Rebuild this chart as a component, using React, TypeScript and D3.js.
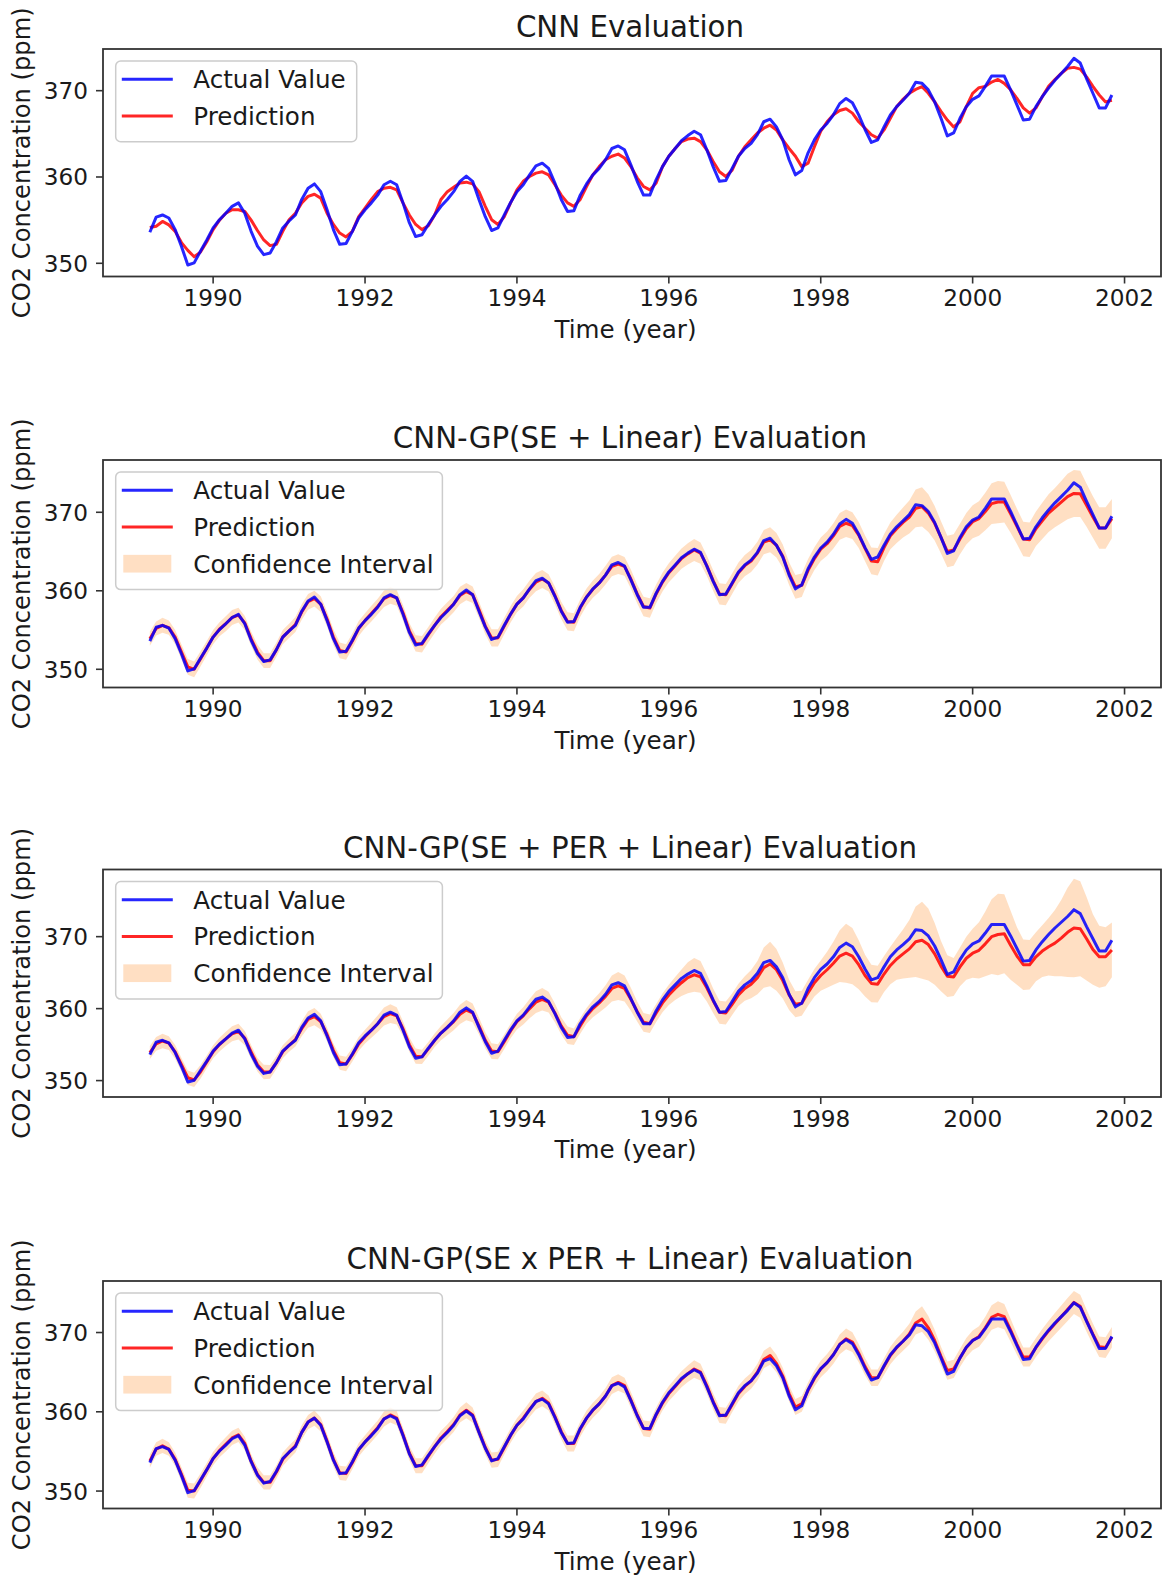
import React from 'react';
import * as d3 from 'd3';

// Monthly series, March 1989 – November 2001 (153 months), CO2 in ppm.
const START_YEAR = 1989;
const START_MONTH = 3;

const actual = [
  353.6, 355.35, 355.6, 355.25, 353.9, 351.95, 349.8, 350.05, 351.4, 352.7,
  354.1, 355.05, 355.8, 356.6, 357.0, 355.8, 353.7, 352.0, 351.0, 351.2, 352.5, 354.1,
  354.9, 355.6, 357.4, 358.7, 359.2, 358.3, 356.2, 353.9, 352.2, 352.3, 353.7, 355.25,
  356.2, 357.0, 357.9, 359.1, 359.5, 359.1, 357.0, 354.7, 353.1, 353.3, 354.5, 355.6,
  356.6, 357.4, 358.3, 359.5, 360.1, 359.5, 357.4, 355.4, 353.8, 354.1, 355.6, 357.05,
  358.3, 359.1, 360.25, 361.3, 361.6, 361.0, 359.3, 357.4, 356.0, 356.1, 357.9, 359.2,
  360.25, 361.0, 362.0, 363.3, 363.6, 363.15, 361.4, 359.5, 357.9, 357.9, 359.7, 361.2,
  362.4, 363.3, 364.2, 364.8, 365.3, 364.9, 363.15, 361.2, 359.5, 359.6, 361.0, 362.4,
  363.3, 363.9, 364.9, 366.4, 366.7, 365.8, 364.3, 362.0, 360.25, 360.75, 362.8, 364.3,
  365.45, 366.2, 367.2, 368.5, 369.1, 368.6, 367.2, 365.5, 364.0, 364.3, 365.8, 367.2,
  368.15, 368.9, 369.7, 370.97, 370.85, 370.1, 368.7, 366.8, 364.76, 365.1, 366.8, 368.15,
  369.0, 369.4, 370.5, 371.7, 371.7, 371.7, 370.1, 368.35, 366.6, 366.7, 368.15, 369.3,
  370.3, 371.2, 372.0, 372.8, 373.75, 373.2, 371.4, 369.7, 368.0, 368.0, 369.5,
];

// CNN
const predCNN = [
  354.15, 354.3, 354.85, 354.45, 353.7, 352.4, 351.5, 350.75, 351.3, 352.5,
  353.9, 355.0, 355.8, 356.2, 356.2, 356.0, 355.0, 353.8, 352.7, 352.05, 352.2, 353.7,
  355.05, 355.8, 357.0, 357.75, 358.0, 357.55, 355.8, 354.5, 353.5, 353.05, 353.7, 355.4,
  356.4, 357.4, 358.3, 358.7, 358.8, 358.5, 357.0, 355.6, 354.5, 353.9, 354.35, 355.6,
  357.4, 358.3, 358.8, 359.3, 359.4, 359.2, 358.3, 356.6, 355.05, 354.5, 355.4, 357.0,
  358.5, 359.5, 360.06, 360.45, 360.6, 360.25, 359.1, 357.9, 357.0, 356.6, 357.4, 358.9,
  360.25, 361.2, 362.0, 362.4, 362.65, 362.2, 361.2, 359.9, 358.9, 358.5, 359.3, 361.2,
  362.4, 363.3, 364.1, 364.4, 364.5, 364.1, 363.15, 361.8, 360.6, 360.06, 360.8, 362.4,
  363.5, 364.3, 365.1, 365.65, 366.0, 365.45, 364.3, 363.3, 362.4, 361.2, 361.6, 363.5,
  365.3, 366.4, 367.2, 367.7, 367.9, 367.4, 366.4, 365.65, 364.9, 364.5, 365.45, 366.8,
  368.15, 369.0, 369.7, 370.15, 370.46, 369.7, 368.7, 367.6, 366.6, 365.8, 366.4, 368.15,
  369.7, 370.35, 370.5, 371.0, 371.3, 370.85, 370.1, 369.1, 368.0, 367.4, 368.0, 369.3,
  370.5, 371.3, 372.0, 372.6, 372.7, 372.5, 371.6, 370.5, 369.5, 368.7, 368.9,
];

// CNN-GP(SE + Linear): mean and half-width of the interval
const predSELin = [
  353.9, 355.2, 355.6, 355.3, 354.1, 352.2, 350.3, 350.0, 351.3, 352.7,
  354.1, 355.1, 355.8, 356.6, 356.9, 355.9, 353.9, 352.2, 351.1, 351.1, 352.5, 354.1,
  354.9, 355.7, 357.3, 358.6, 359.0, 358.3, 356.4, 354.1, 352.4, 352.2, 353.6, 355.2,
  356.2, 357.1, 358.0, 359.0, 359.4, 359.1, 357.2, 354.9, 353.3, 353.2, 354.4, 355.6,
  356.7, 357.5, 358.3, 359.4, 359.9, 359.5, 357.6, 355.5, 354.0, 354.0, 355.5, 357.0,
  358.3, 359.1, 360.2, 361.1, 361.5, 361.0, 359.4, 357.5, 356.1, 356.0, 357.8, 359.2,
  360.2, 361.0, 362.0, 363.1, 363.4, 363.1, 361.5, 359.6, 358.0, 357.8, 359.6, 361.1,
  362.3, 363.2, 364.1, 364.7, 365.2, 364.8, 363.2, 361.3, 359.6, 359.5, 360.9, 362.3,
  363.2, 363.8, 364.8, 366.2, 366.5, 365.8, 364.4, 362.2, 360.5, 360.7, 362.6, 364.1,
  365.3, 366.0, 367.0, 368.2, 368.6, 368.3, 367.1, 365.4, 363.8, 363.7, 365.5, 367.0,
  367.9, 368.7, 369.4, 370.5, 370.7, 369.9, 368.6, 366.8, 365.0, 365.2, 366.6, 367.9,
  368.8, 369.2, 370.1, 371.1, 371.3, 371.3, 369.8, 368.2, 366.6, 366.5, 367.9, 368.9,
  369.9, 370.6, 371.3, 372.0, 372.4, 372.35, 370.9, 369.4, 368.0, 368.0, 369.2,
];
const ciSELin = [
  0.9, 0.9, 0.95, 0.9, 0.9, 0.95, 1.0, 1.0, 0.95, 0.9,
  0.9, 0.9, 0.95, 0.95, 0.95, 0.9, 0.9, 0.95, 0.95, 0.95, 0.9, 0.9,
  0.9, 0.95, 1.0, 1.0, 1.0, 1.0, 0.95, 1.0, 1.0, 1.0, 0.95, 0.95,
  0.95, 1.0, 1.0, 1.05, 1.05, 1.0, 1.0, 1.0, 1.05, 1.05, 1.0, 1.0,
  1.0, 1.05, 1.05, 1.1, 1.1, 1.05, 1.05, 1.05, 1.1, 1.1, 1.05, 1.05,
  1.05, 1.1, 1.1, 1.15, 1.15, 1.1, 1.1, 1.1, 1.15, 1.15, 1.1, 1.1,
  1.1, 1.15, 1.2, 1.25, 1.25, 1.2, 1.2, 1.2, 1.25, 1.25, 1.2, 1.2,
  1.2, 1.25, 1.3, 1.35, 1.4, 1.35, 1.3, 1.3, 1.35, 1.35, 1.3, 1.3,
  1.35, 1.4, 1.45, 1.55, 1.6, 1.55, 1.5, 1.45, 1.5, 1.5, 1.45, 1.45,
  1.5, 1.55, 1.6, 1.7, 1.75, 1.7, 1.65, 1.65, 1.7, 1.75, 1.7, 1.7,
  1.8, 1.9, 2.1, 2.4, 2.5, 2.4, 2.2, 2.05, 2.0, 2.0, 1.95, 2.0,
  2.1, 2.2, 2.4, 2.6, 2.7, 2.6, 2.4, 2.25, 2.2, 2.2, 2.2, 2.3,
  2.4, 2.5, 2.7, 2.9, 3.0, 2.95, 2.75, 2.65, 2.65, 2.65, 2.5,
];

// CNN-GP(SE + PER + Linear)
const predSEPerLin = [
  353.9, 355.1, 355.5, 355.2, 354.0, 352.2, 350.4, 350.1, 351.2, 352.6,
  354.0, 355.0, 355.8, 356.5, 356.8, 355.9, 354.0, 352.2, 351.2, 351.2, 352.5, 354.0,
  354.9, 355.7, 357.2, 358.5, 358.9, 358.2, 356.4, 354.2, 352.5, 352.3, 353.6, 355.1,
  356.1, 357.0, 357.9, 358.9, 359.3, 359.0, 357.2, 355.0, 353.4, 353.3, 354.4, 355.6,
  356.6, 357.4, 358.2, 359.2, 359.8, 359.4, 357.6, 355.6, 354.1, 354.0, 355.4, 356.9,
  358.2, 359.0, 360.0, 360.9, 361.3, 360.9, 359.4, 357.6, 356.3, 356.1, 357.6, 359.0,
  360.0, 360.8, 361.7, 362.8, 363.15, 362.8, 361.3, 359.6, 358.1, 357.9, 359.4, 360.8,
  361.9, 362.8, 363.6, 364.3, 364.7, 364.4, 362.9, 361.1, 359.5, 359.4, 360.6, 361.9,
  362.8, 363.4, 364.3, 365.7, 366.2, 365.4, 363.9, 361.9, 360.6, 360.75, 362.2, 363.6,
  364.6, 365.4, 366.3, 367.3, 367.7, 367.3, 366.1, 364.6, 363.5, 363.4, 364.8, 366.0,
  366.9, 367.6, 368.3, 369.3, 369.5, 368.9, 367.6, 365.9, 364.5, 364.4, 365.8, 367.0,
  367.7, 368.1, 369.0, 370.0, 370.3, 370.4, 368.8, 367.3, 366.1, 366.1, 367.2, 368.0,
  368.6, 369.1, 369.8, 370.6, 371.2, 371.1, 369.7, 368.2, 367.2, 367.2, 368.15,
];
const ciSEPerLin = [
  0.9, 0.95, 1.0, 0.95, 0.95, 0.95, 1.0, 1.0, 0.95, 0.9,
  0.9, 0.95, 1.0, 1.05, 1.1, 1.0, 0.95, 0.95, 1.0, 0.95, 0.9, 0.9,
  0.9, 0.95, 1.05, 1.15, 1.2, 1.1, 0.95, 0.95, 1.0, 1.0, 0.95, 0.95,
  0.95, 1.05, 1.15, 1.25, 1.3, 1.2, 1.05, 1.0, 1.05, 1.0, 0.95, 0.95,
  1.0, 1.1, 1.2, 1.35, 1.4, 1.3, 1.15, 1.1, 1.1, 1.05, 1.0, 1.0,
  1.1, 1.2, 1.35, 1.5, 1.55, 1.45, 1.3, 1.2, 1.2, 1.15, 1.1, 1.1,
  1.2, 1.35, 1.55, 1.8, 1.95, 1.8, 1.6, 1.4, 1.3, 1.3, 1.25, 1.3,
  1.4, 1.6, 1.85, 2.15, 2.35, 2.2, 1.9, 1.7, 1.6, 1.6, 1.5, 1.55,
  1.7, 1.95, 2.3, 2.8, 3.1, 2.9, 2.5, 2.1, 1.8, 1.75, 1.8, 1.9,
  2.1, 2.5, 3.0, 3.6, 4.1, 3.9, 3.4, 2.9, 2.6, 2.55, 2.5, 2.6,
  2.9, 3.4, 4.0, 4.9, 5.35, 5.0, 4.3, 3.5, 2.9, 2.65, 2.7, 3.0,
  3.4, 3.9, 4.5, 5.2, 5.65, 5.5, 4.8, 4.0, 3.5, 3.45, 3.4, 3.6,
  4.0, 4.6, 5.3, 6.2, 6.85, 6.6, 5.8, 4.9, 4.3, 4.1, 3.8,
];

// CNN-GP(SE x PER + Linear)
const predSEmulPerLin = [
  353.8, 355.3, 355.7, 355.3, 354.0, 352.1, 350.1, 350.0, 351.3, 352.7,
  354.1, 355.1, 355.9, 356.7, 357.1, 356.0, 353.8, 352.1, 351.1, 351.1, 352.4, 354.0,
  354.9, 355.7, 357.4, 358.7, 359.2, 358.4, 356.3, 354.0, 352.3, 352.2, 353.6, 355.2,
  356.2, 357.1, 358.0, 359.1, 359.6, 359.2, 357.1, 354.8, 353.2, 353.2, 354.4, 355.6,
  356.7, 357.5, 358.4, 359.6, 360.2, 359.6, 357.5, 355.5, 353.9, 354.0, 355.5, 357.0,
  358.3, 359.2, 360.3, 361.3, 361.7, 361.1, 359.4, 357.5, 356.0, 356.0, 357.8, 359.2,
  360.2, 361.0, 362.0, 363.3, 363.7, 363.3, 361.5, 359.6, 357.9, 357.8, 359.6, 361.1,
  362.3, 363.2, 364.1, 364.8, 365.4, 365.0, 363.3, 361.3, 359.6, 359.5, 360.9, 362.3,
  363.2, 363.9, 365.0, 366.6, 367.1, 366.1, 364.5, 362.3, 360.6, 361.0, 362.7, 364.2,
  365.4, 366.2, 367.2, 368.5, 369.2, 368.8, 367.4, 365.7, 364.3, 364.3, 365.7, 367.1,
  368.1, 368.9, 369.8, 371.2, 371.7, 370.6, 369.0, 367.0, 365.2, 365.4, 366.8, 368.1,
  369.0, 369.5, 370.6, 371.9, 372.3, 372.0, 370.3, 368.5, 366.9, 366.9, 368.1, 369.2,
  370.2, 371.1, 372.0, 372.9, 373.8, 373.3, 371.5, 369.8, 368.2, 368.1, 369.4,
];
const ciSEmulPerLin = [
  0.85, 0.85, 0.9, 0.85, 0.85, 0.9, 0.95, 0.95, 0.9, 0.85,
  0.85, 0.85, 0.9, 0.9, 0.9, 0.85, 0.85, 0.9, 0.9, 0.9, 0.85, 0.85,
  0.85, 0.85, 0.9, 0.9, 0.95, 0.9, 0.9, 0.9, 0.9, 0.9, 0.85, 0.85,
  0.85, 0.9, 0.9, 0.95, 0.95, 0.9, 0.9, 0.9, 0.95, 0.95, 0.9, 0.9,
  0.9, 0.9, 0.95, 0.95, 1.0, 0.95, 0.9, 0.9, 0.95, 0.95, 0.9, 0.9,
  0.9, 0.95, 0.95, 1.0, 1.0, 0.95, 0.95, 0.95, 1.0, 1.0, 0.95, 0.95,
  0.95, 0.95, 1.0, 1.05, 1.05, 1.0, 1.0, 1.0, 1.0, 1.0, 0.95, 0.95,
  0.95, 1.0, 1.0, 1.05, 1.1, 1.05, 1.0, 1.0, 1.0, 1.0, 0.95, 1.0,
  1.0, 1.0, 1.05, 1.1, 1.15, 1.1, 1.05, 1.0, 1.0, 1.0, 1.0, 1.0,
  1.05, 1.1, 1.15, 1.25, 1.3, 1.25, 1.15, 1.1, 1.05, 1.05, 1.05, 1.1,
  1.15, 1.2, 1.3, 1.45, 1.6, 1.5, 1.35, 1.2, 1.15, 1.15, 1.15, 1.2,
  1.25, 1.3, 1.4, 1.55, 1.65, 1.6, 1.45, 1.3, 1.2, 1.2, 1.2, 1.25,
  1.3, 1.35, 1.4, 1.45, 1.45, 1.45, 1.4, 1.35, 1.3, 1.3, 1.3,
];

const titles = [
  'CNN Evaluation',
  'CNN-GP(SE + Linear) Evaluation',
  'CNN-GP(SE + PER + Linear) Evaluation',
  'CNN-GP(SE x PER + Linear) Evaluation',
];
const predictions = [predCNN, predSELin, predSEPerLin, predSEmulPerLin];
const intervals: (number[] | null)[] = [null, ciSELin, ciSEPerLin, ciSEmulPerLin];

const xTicks = [1990, 1992, 1994, 1996, 1998, 2000, 2002];
const yTicks = [350, 360, 370];
const xLimits: [number, number] = [1988.55, 2002.48];
const yLimits: [number, number][] = [
  [348.47, 374.83],
  [347.68, 376.66],
  [347.72, 379.33],
  [347.8, 376.5],
];

// Figure geometry
const W = 1166;
const H = 1579;
const AX_LEFT = 103;
const AX_RIGHT = 1161;
const AX_TOPS = [49, 460, 869.5, 1281];
const AX_H = 227.5;

const FONT = 'DejaVu Sans';
const TEXT = '#1a1a1a';
const SPINE = '#333';
const BLUE = '#0000ff';
const RED = '#ff0000';
const CI_FILL = '#ff7f0e';
const CI_ALPHA = 0.25;

const dates = actual.map((_, i) => START_YEAR + (START_MONTH - 1 + i) / 12);

function Panel({ k }: { k: number }) {
  const top = AX_TOPS[k];
  const bottom = top + AX_H;
  const x = d3.scaleLinear().domain(xLimits).range([AX_LEFT, AX_RIGHT]);
  const y = d3.scaleLinear().domain(yLimits[k]).range([bottom, top]);
  const pred = predictions[k];
  const ci = intervals[k];

  const line = d3
    .line<number>()
    .x((_, i) => x(dates[i]))
    .y((v) => y(v));
  const area = ci
    ? d3
        .area<number>()
        .x((_, i) => x(dates[i]))
        .y0((v, i) => y(v - ci[i]))
        .y1((v, i) => y(v + ci[i]))
    : null;

  const titleX = 630;
  const labelX = 625.5;
  const legendItems = ci
    ? ['Actual Value', 'Prediction', 'Confidence Interval']
    : ['Actual Value', 'Prediction'];
  const lgX = AX_LEFT + 12.7;
  const lgY = top + 12;
  const lgW = ci ? 326.7 : 241;
  const lgH = ci ? 117.6 : 80.7;
  const rowY = (r: number) => lgY + 18.3 + r * 36.7;

  return (
    <g>
      <text x={titleX} y={top - 12} textAnchor="middle" fontSize={29.3} fill={TEXT}>
        {titles[k]}
      </text>

      {area && (
        <path d={area(pred) ?? ''} fill={CI_FILL} fillOpacity={CI_ALPHA} stroke="none" />
      )}
      <path
        d={line(pred) ?? ''}
        fill="none"
        stroke={RED}
        strokeOpacity={0.85}
        strokeWidth={3}
        strokeLinejoin="round"
      />
      <path
        d={line(actual) ?? ''}
        fill="none"
        stroke={BLUE}
        strokeOpacity={0.85}
        strokeWidth={3}
        strokeLinejoin="round"
      />

      <rect
        x={AX_LEFT}
        y={top}
        width={AX_RIGHT - AX_LEFT}
        height={AX_H}
        fill="none"
        stroke={SPINE}
        strokeWidth={1.8}
      />

      {xTicks.map((t) => (
        <g key={t}>
          <line x1={x(t)} x2={x(t)} y1={bottom} y2={bottom + 7} stroke={SPINE} strokeWidth={1.6} />
          <text x={x(t)} y={bottom + 29.5} textAnchor="middle" fontSize={23.2} fill={TEXT}>
            {t}
          </text>
        </g>
      ))}
      {yTicks.map((t) => (
        <g key={t}>
          <line x1={AX_LEFT - 7} x2={AX_LEFT} y1={y(t)} y2={y(t)} stroke={SPINE} strokeWidth={1.6} />
          <text
            x={AX_LEFT - 15}
            y={y(t)}
            dy="0.364em"
            textAnchor="end"
            fontSize={23.2}
            fill={TEXT}
          >
            {t}
          </text>
        </g>
      ))}

      <text x={labelX} y={bottom + 61} textAnchor="middle" fontSize={24.6} fill={TEXT}>
        Time (year)
      </text>
      <text
        transform={`translate(30, ${top + AX_H / 2}) rotate(-90)`}
        textAnchor="middle"
        fontSize={24.2}
        fill={TEXT}
      >
        CO2 Concentration (ppm)
      </text>

      <rect
        x={lgX}
        y={lgY}
        width={lgW}
        height={lgH}
        rx={5}
        fill="#fff"
        fillOpacity={0.8}
        stroke="#cccccc"
        strokeWidth={1.5}
      />
      {legendItems.map((label, r) => {
        const cy = rowY(r);
        return (
          <g key={label}>
            {r < 2 ? (
              <line
                x1={AX_LEFT + 20.3}
                x2={AX_LEFT + 68.3}
                y1={cy}
                y2={cy}
                stroke={r === 0 ? BLUE : RED}
                strokeOpacity={0.85}
                strokeWidth={3}
                strokeLinecap="square"
              />
            ) : (
              <rect
                x={AX_LEFT + 20.3}
                y={cy - 8.85}
                width={48}
                height={17.7}
                fill={CI_FILL}
                fillOpacity={CI_ALPHA}
              />
            )}
            <text x={AX_LEFT + 90.3} y={cy} dy="0.364em" fontSize={24.6} fill={TEXT}>
              {label}
            </text>
          </g>
        );
      })}
    </g>
  );
}

export default function App() {
  return (
    <svg
      width={W}
      height={H}
      viewBox={`0 0 ${W} ${H}`}
      fontFamily={FONT}
      style={{ position: 'absolute', left: 0, top: 0, display: 'block', background: '#fff' }}
    >
      <rect width={W} height={H} fill="#fff" />
      {titles.map((_, k) => (
        <Panel key={k} k={k} />
      ))}
    </svg>
  );
}
